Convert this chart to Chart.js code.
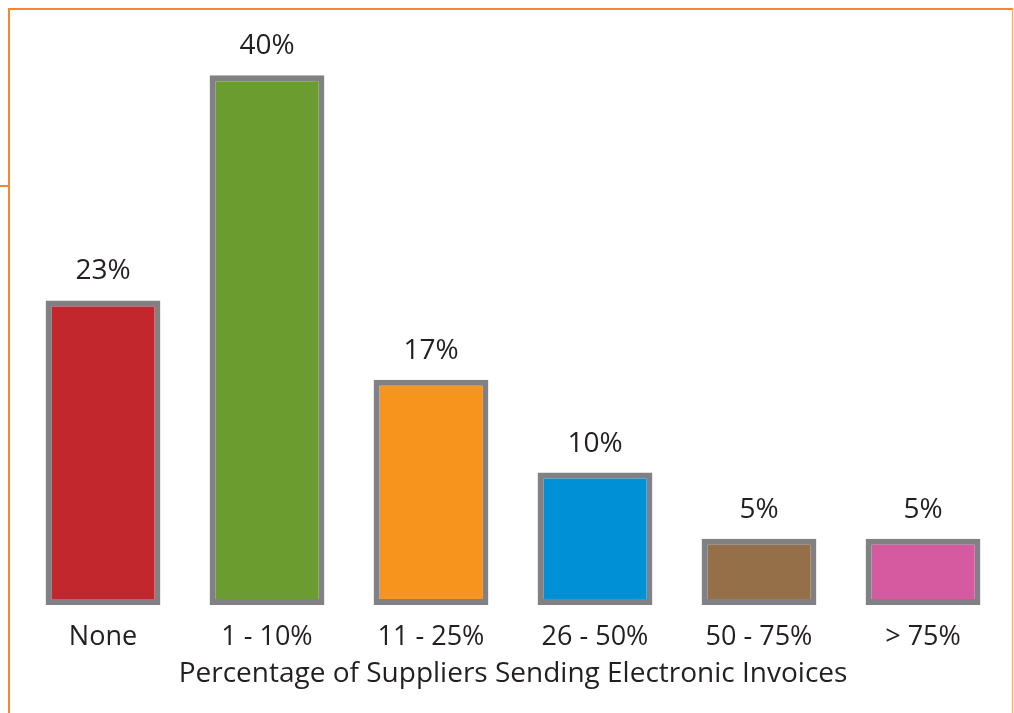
<!DOCTYPE html>
<html>
<head>
<meta charset="utf-8">
<script src="https://cdn.jsdelivr.net/npm/chart.js@4.4.0/dist/chart.umd.min.js"></script>
<style>
  html, body { margin: 0; padding: 0; background: #fff; }
  #wrap { position: relative; width: 1014px; height: 713px; overflow: hidden; }
  #frame { position: absolute; left: 8px; top: 8px; width: 1002px; height: 720px;
           border-top: 2px solid #f7862e; border-left: 2px solid #f7862e; border-right: 1px solid #f9a66a; }
  #notch { position: absolute; left: 0; top: 185px; width: 8px; height: 2px; background: #f7862e; }
  canvas { position: absolute; left: 0; top: 0; }
</style>
</head>
<body>
<div id="wrap">
  <div id="frame"></div>
  <div id="notch"></div>
  <canvas id="chart" width="1014" height="713"></canvas>
</div>
<script>
// ================= DATA =================
const categories = ["None", "1 - 10%", "11 - 25%", "26 - 50%", "50 - 75%", "> 75%"];
const shares = [23, 40, 17, 10, 5, 5];
const barColors = ["#c1272d", "#6a9c30", "#f7941d", "#0090d5", "#946f48", "#d55a9f"];
const axisTitle = "Percentage of Suppliers Sending Electronic Invoices";

const FONT = "'Open Sans', 'Noto Sans', sans-serif";
const TEXT = "#231f20";

// ================= VALUE LABELS =================
const valueLabels = {
  id: "valueLabels",
  afterDatasetsDraw(chart) {
    const ctx = chart.ctx;
    const meta = chart.getDatasetMeta(0);
    ctx.save();
    ctx.font = "28px " + FONT;
    ctx.fillStyle = TEXT;
    ctx.textAlign = "center";
    ctx.textBaseline = "middle";
    meta.data.forEach((bar, i) => {
      ctx.fillText(shares[i] + "%", bar.x, bar.y - 29);
    });
    ctx.restore();
  }
};

// ================= CHART =================
new Chart(document.getElementById("chart"), {
  type: "bar",
  data: {
    labels: categories,
    datasets: [{
      data: shares,
      backgroundColor: barColors,
      borderColor: "#808085",
      borderWidth: 6,
      borderSkipped: false,
      categoryPercentage: 1,
      barPercentage: 0.7
    }]
  },
  options: {
    responsive: false,
    animation: false,
    layout: { padding: { left: 21, right: 9, top: 9, bottom: 0 } },
    plugins: { legend: { display: false }, tooltip: { enabled: false } },
    scales: {
      y: { display: false, min: 0, max: 45 },
      x: {
        grid: { display: false, drawTicks: false },
        border: { display: false },
        ticks: { color: TEXT, font: { family: FONT, size: 27 }, padding: 16 },
        title: { display: true, text: axisTitle, color: TEXT,
                 font: { family: FONT, size: 28 }, padding: { top: 4, bottom: 22 } },
        afterFit(scale) { scale.height = 108; }
      }
    }
  },
  plugins: [valueLabels]
});
</script>
</body>
</html>
